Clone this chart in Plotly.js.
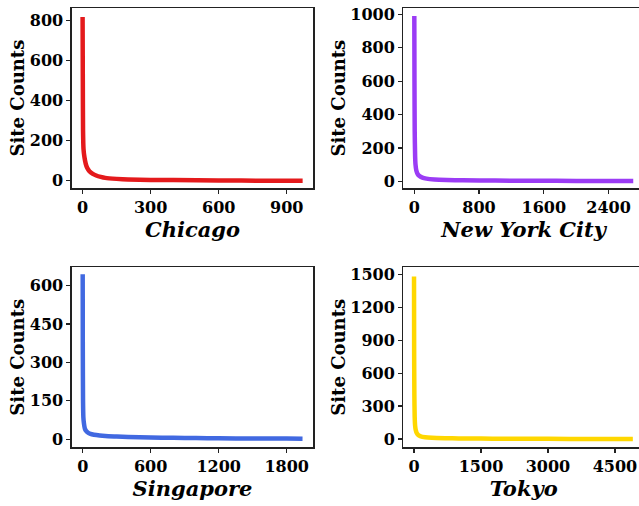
<!DOCTYPE html>
<html>
<head>
<meta charset="utf-8">
<script src="https://cdn.plot.ly/plotly-3.0.1.min.js"></script>
<style>
html, body { margin: 0; padding: 0; overflow: hidden; background: #fff; }
#chart { width: 650px; height: 506px; }
</style>
</head>
<body>
<div id="chart"></div>
<script>
// Ranked site counts per city (rank index -> count)
const cities = ["Chicago", "New York City", "Singapore", "Tokyo"];
const colors = ["#e41a1c", "#9b3cf5", "#4169e1", "#ffd700"];

const chicagoRank = [0, 1, 2, 4, 8, 14, 20, 30, 45, 60, 80, 100, 150, 200, 300, 400, 600, 800, 970];
const chicagoCount = [818, 500, 250, 160, 120, 85, 65, 48, 35, 27, 20, 15, 10, 7, 5, 4, 2, 1, 1];

const nycRank = [0, 2, 5, 10, 15, 25, 40, 60, 100, 150, 250, 400, 600, 1000, 1500, 2000, 2500, 2705];
const nycCount = [990, 600, 300, 150, 100, 65, 45, 33, 22, 16, 11, 8, 6, 4, 3, 2, 1, 1];

const sgRank = [0, 1, 3, 6, 10, 15, 20, 30, 45, 60, 80, 100, 150, 200, 300, 400, 600, 800, 1000, 1200, 1500, 1800, 1940];
const sgCount = [645, 350, 150, 85, 65, 50, 40, 32, 26, 22, 19, 17, 14, 12, 10, 8, 6, 5, 4, 3, 2, 2, 1];

const tokyoRank = [0, 3, 8, 15, 25, 40, 60, 100, 150, 250, 400, 700, 1000, 1500, 2000, 3000, 4000, 4900];
const tokyoCount = [1480, 800, 400, 200, 120, 80, 55, 35, 25, 17, 12, 8, 6, 4, 3, 2, 1, 1];

const xTicks = [[0, 300, 600, 900], [0, 800, 1600, 2400], [0, 600, 1200, 1800], [0, 1500, 3000, 4500]];
const yTicks = [[0, 200, 400, 600, 800], [0, 200, 400, 600, 800, 1000], [0, 150, 300, 450, 600], [0, 300, 600, 900, 1200, 1500]];

const ranks = [chicagoRank, nycRank, sgRank, tokyoRank];
const counts = [chicagoCount, nycCount, sgCount, tokyoCount];

const W = 650, H = 506;
const xDomPx = [[71.7, 313.3], [403.3, 644], [71.7, 313.3], [403.3, 644]];
const yDomPx = [[8, 188.3], [8, 188.3], [267.3, 447.3], [267.3, 447.3]];
const xRanges = [[-48, 1017], [-136, 2838], [-97, 2035], [-240, 5150]];
const yRanges = [[-37, 863], [-42, 1038], [-32, 672], [-75, 1563]];

const FONT = "DejaVu Serif";
const traces = [];
const layout = {
  width: W, height: H,
  margin: {l: 0, r: 0, t: 0, b: 0},
  paper_bgcolor: "#fff", plot_bgcolor: "#fff",
  showlegend: false,
  font: {family: FONT, color: "#000"}
};

for (let i = 0; i < 4; i++) {
  const s = i === 0 ? "" : String(i + 1);
  traces.push({
    x: ranks[i], y: counts[i],
    type: "scatter", mode: "lines",
    line: {color: colors[i], width: 4.5, shape: "spline", smoothing: 0.6},
    xaxis: "x" + s, yaxis: "y" + s,
    hoverinfo: "skip"
  });
  const axCommon = {
    showline: true, mirror: true, linecolor: "#222", linewidth: 1.3,
    showgrid: false, zeroline: false,
    ticks: "outside", ticklen: 4, tickwidth: 1.2, tickcolor: "#222",
    tickfont: {family: FONT, size: 16, color: "#000", weight: "bold"},
    automargin: false
  };
  layout["xaxis" + s] = Object.assign({}, axCommon, {
    domain: [xDomPx[i][0] / W, xDomPx[i][1] / W],
    range: xRanges[i],
    tickmode: "array", tickvals: xTicks[i], ticktext: xTicks[i].map(String),
    anchor: "y" + s,
    title: {text: "<b><i>" + cities[i] + "</i></b>", font: {family: FONT, size: 21, color: "#000"}, standoff: 6}
  });
  layout["yaxis" + s] = Object.assign({}, axCommon, {
    domain: [1 - yDomPx[i][1] / H, 1 - yDomPx[i][0] / H],
    range: yRanges[i],
    tickmode: "array", tickvals: yTicks[i], ticktext: yTicks[i].map(String),
    anchor: "x" + s,
    title: {text: "<b>Site Counts</b>", font: {family: FONT, size: 18, color: "#000"}, standoff: 0}
  });
}

Plotly.newPlot("chart", traces, layout, {displayModeBar: false, staticPlot: true});
</script>
</body>
</html>
